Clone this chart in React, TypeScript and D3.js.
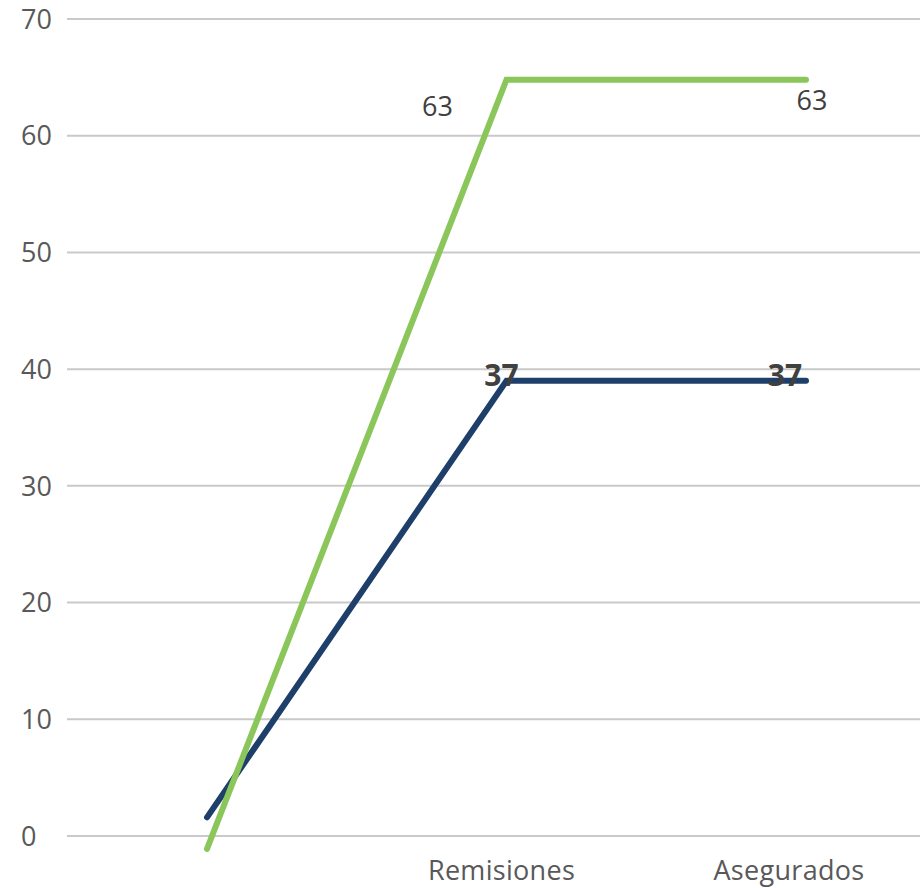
import { useEffect, useRef } from 'react';
import * as d3 from 'd3';

const categories = ["", "Remisiones", "Asegurados"];
const greenValues = [-1.1, 64.8, 64.8];
const blueValues = [1.6, 39, 39];
const greenLabels = ["", "63", "63"];
const blueLabels = ["", "37", "37"];
const yTicks = [0, 10, 20, 30, 40, 50, 60, 70];

export default function App() {
    const ref = useRef<SVGSVGElement>(null);

    useEffect(() => {
        if (!ref.current) return;
        const svg = d3.select(ref.current);
        svg.selectAll("*").remove();

        const width = 920;
        const height = 888;
        const font = "'Open Sans', 'Noto Sans', sans-serif";

        const x = d3.scalePoint<string>()
            .domain(categories)
            .range([207, 806]);

        const y = d3.scaleLinear()
            .domain([0, 70])
            .range([836, 19]);

        svg.attr("viewBox", [0, 0, width, height])
            .attr("width", width)
            .attr("height", height);

        // gridlines
        svg.append("g")
            .selectAll("line")
            .data(yTicks)
            .join("line")
            .attr("x1", 67)
            .attr("x2", width)
            .attr("y1", d => y(d))
            .attr("y2", d => y(d))
            .attr("stroke", "#c9c9c9")
            .attr("stroke-width", 2);

        // y tick labels
        svg.append("g")
            .selectAll("text")
            .data(yTicks)
            .join("text")
            .attr("x", 21)
            .attr("y", d => y(d))
            .attr("dy", "0.36em")
            .attr("fill", "#595959")
            .style("font-family", font)
            .style("font-size", "27px")
            .text(d => d);

        // x labels
        const xLabelShift = [0, -5, -17];
        svg.append("g")
            .selectAll("text")
            .data(categories)
            .join("text")
            .attr("x", (d, i) => (x(d) || 0) + xLabelShift[i])
            .attr("y", 880)
            .attr("text-anchor", "middle")
            .attr("fill", "#595959")
            .style("font-family", font)
            .style("font-size", "27px")
            .style("letter-spacing", "0.3px")
            .text(d => d);

        const line = d3.line<number>()
            .x((_, i) => x(categories[i]) || 0)
            .y(d => y(d));

        svg.append("path")
            .datum(blueValues)
            .attr("d", line)
            .attr("fill", "none")
            .attr("stroke", "#1f3f6b")
            .attr("stroke-width", 6)
            .attr("stroke-linecap", "round");

        svg.append("path")
            .datum(greenValues)
            .attr("d", line)
            .attr("fill", "none")
            .attr("stroke", "#8bc65a")
            .attr("stroke-width", 6)
            .attr("stroke-linecap", "round");

        // data labels
        const greenOffsets = [[0, 0], [-69, 27], [6, 21]];
        const blueOffsets = [[0, 0], [-5, -6], [-21, -6]];

        svg.append("g")
            .selectAll("text")
            .data(greenValues)
            .join("text")
            .attr("x", (_, i) => (x(categories[i]) || 0) + greenOffsets[i][0])
            .attr("y", (d, i) => y(d) + greenOffsets[i][1])
            .attr("dy", "0.36em")
            .attr("text-anchor", "middle")
            .attr("fill", "#404040")
            .style("font-family", font)
            .style("font-size", "27px")
            .text((_, i) => greenLabels[i]);

        svg.append("g")
            .selectAll("text")
            .data(blueValues)
            .join("text")
            .attr("x", (_, i) => (x(categories[i]) || 0) + blueOffsets[i][0])
            .attr("y", (d, i) => y(d) + blueOffsets[i][1])
            .attr("dy", "0.36em")
            .attr("text-anchor", "middle")
            .attr("fill", "#404040")
            .style("font-family", font)
            .style("font-size", "30px")
            .style("font-weight", "bold")
            .text((_, i) => blueLabels[i]);
    }, []);

    return (
        <div style={{ position: "absolute", top: 0, left: 0, background: "#fff" }}>
            <svg ref={ref} style={{ display: "block" }}></svg>
        </div>
    );
}
